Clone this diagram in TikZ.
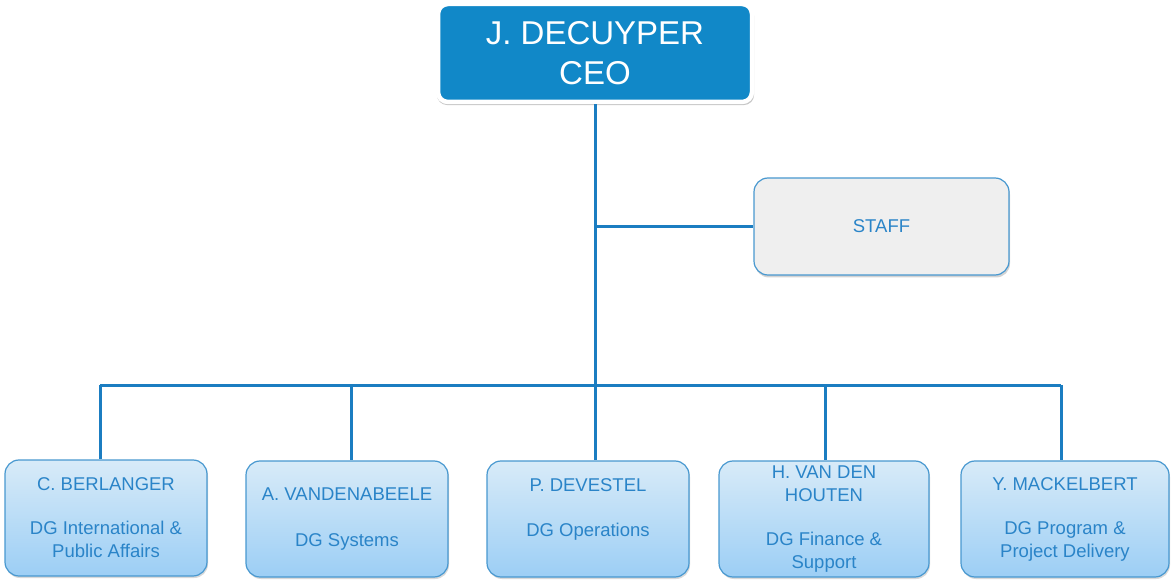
\documentclass[tikz,border=0pt]{standalone}
\usepackage{fontspec}
\setmainfont{Liberation Sans}
\usepackage{xcolor}
\usetikzlibrary{positioning,shapes,shadows}

\definecolor{ceoblue}{RGB}{17,136,200}
\definecolor{linkblue}{RGB}{27,125,193}
\definecolor{boxline}{RGB}{72,152,208}
\definecolor{boxtext}{RGB}{42,132,200}
\definecolor{staffgray}{RGB}{239,239,239}
\definecolor{gradtop}{RGB}{216,235,248}
\definecolor{gradbot}{RGB}{156,206,245}

\begin{document}
\begin{tikzpicture}[x=1pt,y=-1pt]
\tikzstyle{every node}+=[inner sep=0pt, align=center]
\tikzstyle{link}=[linkblue, line width=3pt]
\tikzstyle{ceobox}=[rounded corners=10pt, fill=ceoblue, draw=white, line width=4.5pt, text=white,
  minimum width=314pt, minimum height=98pt, font=\fontsize{33}{40}\selectfont,
  drop shadow={shadow xshift=0.5pt, shadow yshift=-2.5pt, shadow scale=1.01, opacity=0.45}]
\tikzstyle{staffbox}=[rounded corners=14pt, fill=staffgray, draw=boxline, line width=1.2pt, text=boxtext,
  minimum width=255pt, minimum height=97pt, font=\fontsize{18.5}{23}\selectfont,
  drop shadow={shadow xshift=1pt, shadow yshift=-2.5pt, opacity=0.35}]
\tikzstyle{dgbox}=[rounded corners=14pt, top color=gradtop, bottom color=gradbot, draw=boxline, line width=1.2pt,
  text=boxtext, minimum height=116pt, font=\fontsize{18.5}{23}\selectfont,
  drop shadow={shadow xshift=1pt, shadow yshift=-2pt, opacity=0.3}]
\useasboundingbox (0,0) rectangle (1171,580);
\node [ceobox] (ceo) at (595,53) {J. DECUYPER\\CEO};
\node [staffbox] (staff) at (881.5,226.5) {STAFF};
\node [dgbox, minimum width=202pt] (berlanger) at (106,518) {C. BERLANGER\\[21pt]DG International \&\\Public Affairs};
\node [dgbox, minimum width=202pt] (vandenabeele) at (347,519) {A. VANDENABEELE\\[23pt]DG Systems};
\node [dgbox, minimum width=202pt] (devestel) at (588,519) {P. DEVESTEL\\[22pt]DG Operations\\\mbox{}};
\node [dgbox, minimum width=210pt] (vandenhouten) at (824,519) {H. VAN DEN\\HOUTEN\\[21pt]DG Finance \&\\Support};
\node [dgbox, minimum width=208pt] (mackelbert) at (1065,519) {Y. MACKELBERT\\[21pt]DG Program \&\\Project Delivery};
\coordinate (bus) at (595,385);
\coordinate (j1) at (100,385);
\coordinate (j2) at (351,385);
\coordinate (j4) at (825,385);
\coordinate (j5) at (1061,385);
\draw [link] (ceo.south) -- (bus);
\draw [link] (ceo.south |- staff.west) -- (staff.west);
\draw [link] (j1) -- (j5);
\draw [link] (j1) -- (j1 |- berlanger.north);
\draw [link] (j2) -- (j2 |- vandenabeele.north);
\draw [link] (bus) -- (bus |- devestel.north);
\draw [link] (j4) -- (j4 |- vandenhouten.north);
\draw [link] (j5) -- (j5 |- mackelbert.north);
\end{tikzpicture}
\end{document}
